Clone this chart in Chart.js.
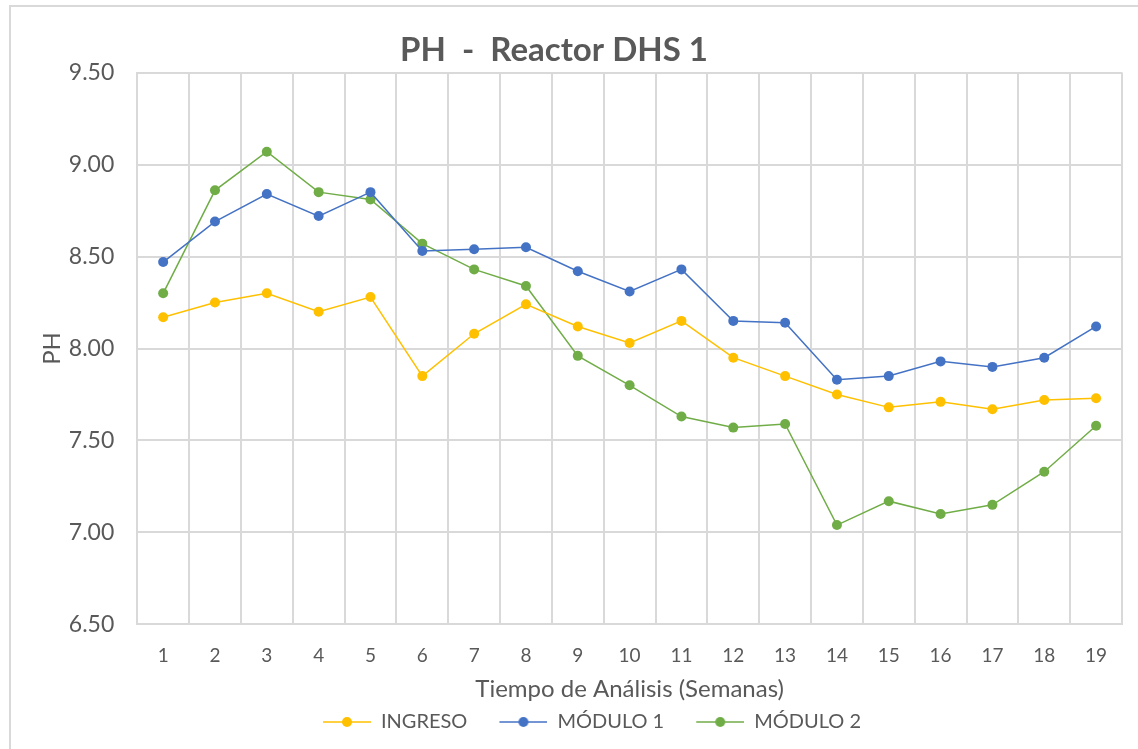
<!DOCTYPE html>
<html>
<head>
<meta charset="utf-8">
<script src="https://cdn.jsdelivr.net/npm/chart.js"></script>
<style>
  html, body { margin: 0; padding: 0; background: #fff; }
  #wrap { position: relative; width: 1138px; height: 749px; }
  #frame { position: absolute; left: 9px; top: 5px; right: 0; bottom: 0; border-top: 2px solid #d9d9d9; border-left: 2px solid #d9d9d9; pointer-events: none; }
  #myChart { position: absolute; left: 0; top: 0; }
</style>
</head>
<body>
<div id="wrap">
  <div id="frame"></div>
  <canvas id="myChart" width="1138" height="749"></canvas>
</div>
<script>
const weeks = ["1","2","3","4","5","6","7","8","9","10","11","12","13","14","15","16","17","18","19"]
const ingreso = [8.17, 8.25, 8.30, 8.20, 8.28, 7.85, 8.08, 8.24, 8.12, 8.03, 8.15, 7.95, 7.85, 7.75, 7.68, 7.71, 7.67, 7.72, 7.73]
const modulo1 = [8.47, 8.69, 8.84, 8.72, 8.85, 8.53, 8.54, 8.55, 8.42, 8.31, 8.43, 8.15, 8.14, 7.83, 7.85, 7.93, 7.90, 7.95, 8.12]
const modulo2 = [8.30, 8.86, 9.07, 8.85, 8.81, 8.57, 8.43, 8.34, 7.96, 7.80, 7.63, 7.57, 7.59, 7.04, 7.17, 7.10, 7.15, 7.33, 7.58]
const seriesNames = ["INGRESO", "MÓDULO 1", "MÓDULO 2"]
const seriesColors = ["#FFC000", "#4472C4", "#70AD47"]

const textColor = "#595959"
const gridColor = "#d9d9d9"
const fontFamily = "Lato, 'Open Sans', sans-serif"

// legend marker: short line with a dot, blank space on the left to widen the gap between items
const markerGap = 24
function legendMarker(color) {
  const c = document.createElement("canvas")
  c.width = 48 + markerGap
  c.height = 12
  const g = c.getContext("2d")
  g.strokeStyle = color
  g.lineWidth = 1.5
  g.beginPath()
  g.moveTo(markerGap, 6)
  g.lineTo(markerGap + 48, 6)
  g.stroke()
  g.fillStyle = color
  g.beginPath()
  g.arc(markerGap + 24, 6, 5, 0, Math.PI * 2)
  g.fill()
  return c
}
const markers = seriesColors.map(legendMarker)

// the title in the original sits a bit left of the canvas centre
const titleShift = {
  id: "titleShift",
  afterLayout(chart) {
    if (chart.titleBlock) chart.titleBlock.left -= 52
  },
}

const ctx = document.getElementById("myChart")
new Chart(ctx, {
  type: "line",
  data: {
    labels: weeks,
    datasets: [ingreso, modulo1, modulo2].map((d, i) => ({
      label: seriesNames[i],
      data: d,
      borderColor: seriesColors[i],
      backgroundColor: seriesColors[i],
      borderWidth: 1.5,
      pointRadius: 5,
      pointHoverRadius: 5,
      pointBorderWidth: 0,
      tension: 0,
    })),
  },
  plugins: [titleShift],
  options: {
    responsive: false,
    animation: false,
    layout: {
      padding: { left: 38, right: 16, top: 0, bottom: 7 },
    },
    plugins: {
      title: {
        display: true,
        text: "PH  -  Reactor DHS 1",
        color: textColor,
        font: { family: fontFamily, size: 33, weight: "bold" },
        padding: { top: 31, bottom: 2 },
      },
      legend: {
        position: "bottom",
        labels: {
          color: textColor,
          font: { family: fontFamily, size: 20 },
          usePointStyle: true,
          pointStyleWidth: 48 + markerGap,
          padding: 8,
          generateLabels: (chart) => {
            const items = Chart.defaults.plugins.legend.labels.generateLabels(chart)
            items.forEach((it, i) => { it.pointStyle = markers[i] })
            return items
          },
        },
      },
      tooltip: { enabled: false },
    },
    scales: {
      x: {
        offset: true,
        grid: { offset: true, color: gridColor, lineWidth: 2, drawTicks: false },
        border: { color: gridColor, width: 2 },
        ticks: { color: textColor, font: { family: fontFamily, size: 19 }, padding: 20 },
        title: {
          display: true,
          text: "Tiempo de Análisis (Semanas)",
          color: textColor,
          font: { family: fontFamily, size: 24 },
          padding: { top: -12, bottom: 0 },
        },
      },
      y: {
        min: 6.5,
        max: 9.5,
        grid: { color: gridColor, lineWidth: 2, drawTicks: false },
        border: { color: gridColor, width: 2 },
        ticks: {
          stepSize: 0.5,
          color: textColor,
          font: { family: fontFamily, size: 23 },
          padding: 23,
          callback: (v) => v.toFixed(2),
        },
        title: {
          display: true,
          text: "PH",
          color: textColor,
          font: { family: fontFamily, size: 24 },
          padding: { top: 0, bottom: -21 },
        },
      },
    },
  },
})
</script>
</body>
</html>
